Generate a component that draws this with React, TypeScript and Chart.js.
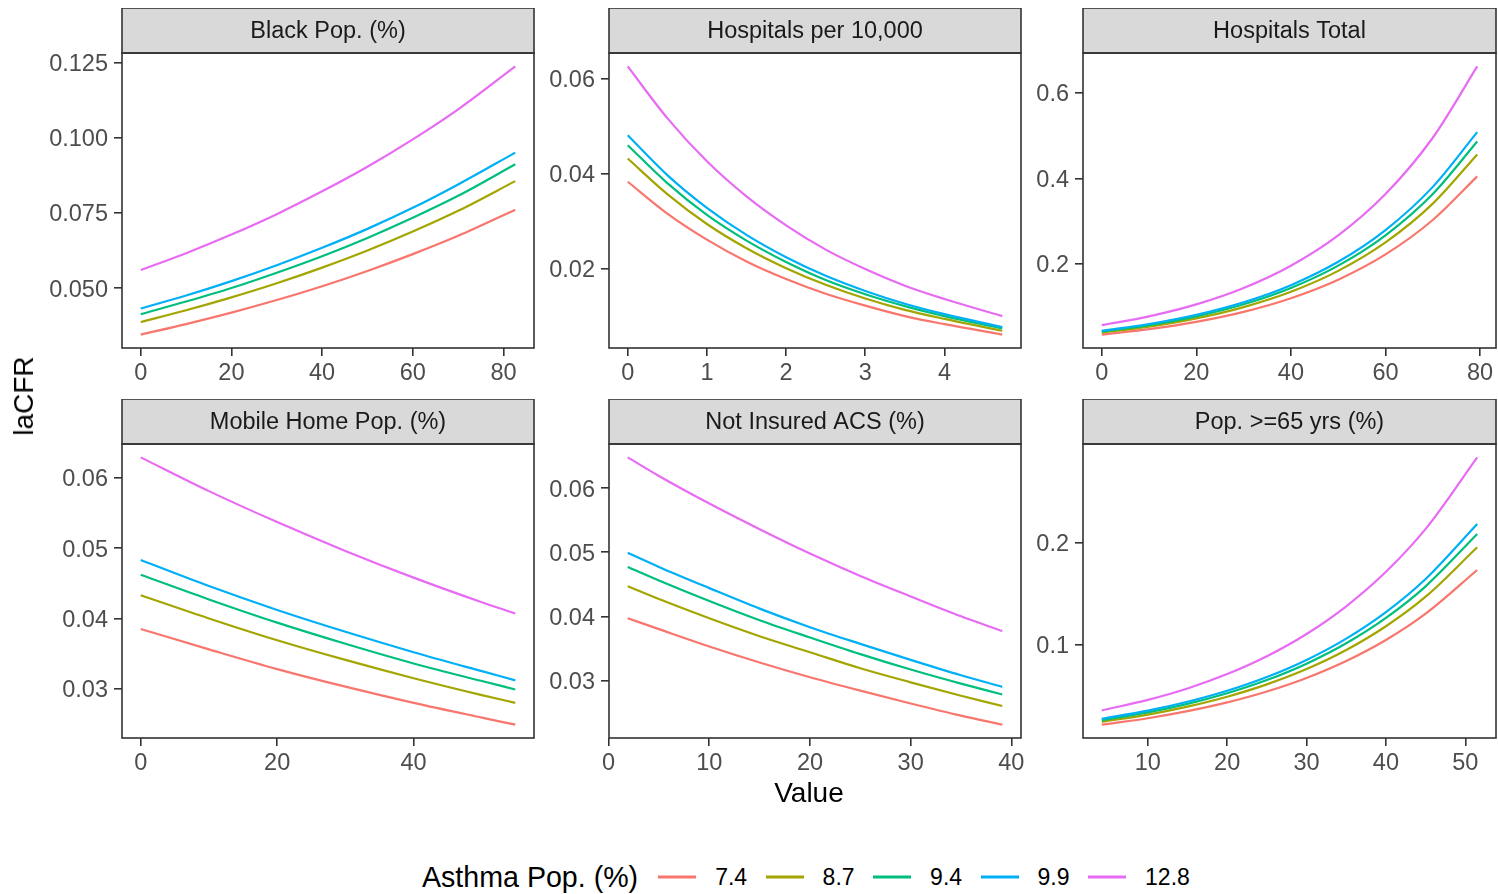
import React, { useEffect, useRef } from "react";
import { Chart, registerables } from "chart.js";
Chart.register(...registerables);

const FONT = '"Liberation Sans", Arial, Helvetica, sans-serif';

// Legend groups (Asthma Pop. %) and ggplot hue colours
const groups = ["7.4", "8.7", "9.4", "9.9", "12.8"];
const colors = ["#F8766D", "#A3A500", "#00BF7D", "#00B0F6", "#E76BF3"];

// Panel 1: Black Pop. (%)
const blackX = [0, 10, 20, 30, 40, 50, 60, 70, 82.6];
const black74 = [0.0345, 0.038, 0.0418, 0.046, 0.0506, 0.0557, 0.0613, 0.0674, 0.0761];
const black87 = [0.0387, 0.0426, 0.0469, 0.0516, 0.0568, 0.0625, 0.0688, 0.0757, 0.0856];
const black94 = [0.0413, 0.0455, 0.05, 0.0551, 0.0606, 0.0667, 0.0734, 0.0807, 0.0912];
const black99 = [0.0432, 0.0475, 0.0523, 0.0576, 0.0634, 0.0697, 0.0767, 0.0845, 0.0951];
const black128 = [0.056, 0.0616, 0.0678, 0.0746, 0.0822, 0.0904, 0.0995, 0.1095, 0.1238];
const blackXTicks = [0, 20, 40, 60, 80];
const blackYTicks = [0.05, 0.075, 0.1, 0.125];

// Panel 2: Hospitals per 10,000
const hospRateX = [0, 0.5, 1, 1.5, 2, 2.5, 3, 3.5, 4, 4.73];
const hospRate74 = [0.0383, 0.0316, 0.0261, 0.0215, 0.0178, 0.0147, 0.0122, 0.01, 0.0083, 0.0061];
const hospRate87 = [0.0432, 0.0357, 0.0294, 0.0243, 0.0201, 0.0166, 0.0137, 0.0113, 0.0094, 0.0069];
const hospRate94 = [0.046, 0.038, 0.0313, 0.0259, 0.0214, 0.0176, 0.0146, 0.0121, 0.01, 0.0074];
const hospRate99 = [0.0481, 0.0397, 0.0328, 0.0271, 0.0224, 0.0185, 0.0153, 0.0126, 0.0104, 0.0077];
const hospRate128 = [0.0626, 0.0517, 0.0426, 0.0352, 0.0291, 0.024, 0.0199, 0.0164, 0.0136, 0.01];
const hospRateXTicks = [0, 1, 2, 3, 4];
const hospRateYTicks = [0.02, 0.04, 0.06];

// Panel 3: Hospitals Total
const hospTotX = [0, 10, 20, 30, 40, 50, 60, 70, 79.4];
const hospTot74 = [0.0348, 0.0474, 0.0646, 0.0879, 0.1198, 0.1631, 0.2222, 0.3027, 0.4047];
const hospTot87 = [0.0392, 0.0534, 0.0727, 0.0991, 0.1349, 0.1838, 0.2503, 0.3409, 0.4559];
const hospTot94 = [0.0418, 0.0569, 0.0775, 0.1056, 0.1439, 0.196, 0.2669, 0.3635, 0.4861];
const hospTot99 = [0.0437, 0.0595, 0.0811, 0.1104, 0.1504, 0.2049, 0.279, 0.3801, 0.5082];
const hospTot128 = [0.0569, 0.0775, 0.1055, 0.1438, 0.1959, 0.2667, 0.3633, 0.4949, 0.6617];
const hospTotXTicks = [0, 20, 40, 60, 80];
const hospTotYTicks = [0.2, 0.4, 0.6];

// Panel 4: Mobile Home Pop. (%)
const mobileX = [0, 10, 20, 30, 40, 50, 54.9];
const mobile74 = [0.0385, 0.0356, 0.0328, 0.0303, 0.028, 0.0259, 0.0249];
const mobile87 = [0.0433, 0.04, 0.0369, 0.0341, 0.0315, 0.0291, 0.028];
const mobile94 = [0.0462, 0.0427, 0.0394, 0.0364, 0.0336, 0.0311, 0.0299];
const mobile99 = [0.0483, 0.0446, 0.0412, 0.0381, 0.0352, 0.0325, 0.0312];
const mobile128 = [0.0629, 0.0581, 0.0537, 0.0496, 0.0458, 0.0423, 0.0407];
const mobileXTicks = [0, 20, 40];
const mobileYTicks = [0.03, 0.04, 0.05, 0.06];

// Panel 5: Not Insured ACS (%)
const uninsX = [1.9, 5, 10, 15, 20, 25, 30, 35, 39.1];
const unins74 = [0.0397, 0.038, 0.0353, 0.0328, 0.0305, 0.0284, 0.0264, 0.0245, 0.0231];
const unins87 = [0.0447, 0.0427, 0.0397, 0.0369, 0.0344, 0.0319, 0.0297, 0.0276, 0.026];
const unins94 = [0.0477, 0.0456, 0.0424, 0.0394, 0.0367, 0.0341, 0.0317, 0.0295, 0.0278];
const unins99 = [0.0499, 0.0477, 0.0444, 0.0412, 0.0383, 0.0357, 0.0332, 0.0308, 0.029];
const unins128 = [0.0648, 0.0619, 0.0576, 0.0536, 0.0498, 0.0463, 0.0431, 0.04, 0.0377];
const uninsXTicks = [0, 10, 20, 30, 40];
const uninsYTicks = [0.03, 0.04, 0.05, 0.06];

// Panel 6: Pop. >=65 yrs (%)
const elderX = [4.2, 10, 15, 20, 25, 30, 35, 40, 45, 51.5];
const elder74 = [0.0218, 0.0281, 0.035, 0.0436, 0.0543, 0.0676, 0.0842, 0.1048, 0.1306, 0.1735];
const elder87 = [0.0246, 0.0317, 0.0395, 0.0492, 0.0613, 0.0763, 0.095, 0.1183, 0.1473, 0.1958];
const elder94 = [0.0263, 0.0339, 0.0422, 0.0526, 0.0655, 0.0816, 0.1016, 0.1265, 0.1575, 0.2088];
const elder99 = [0.0275, 0.0355, 0.0442, 0.055, 0.0685, 0.0853, 0.1062, 0.1322, 0.1647, 0.2186];
const elder128 = [0.0357, 0.0461, 0.0573, 0.0714, 0.0889, 0.1107, 0.1379, 0.1717, 0.2138, 0.284];
const elderXTicks = [10, 20, 30, 40, 50];
const elderYTicks = [0.1, 0.2];

type PanelDef = {
  title: string;
  xs: number[];
  series: number[][];
  xTicks: number[];
  yTicks: number[];
  yDigits: number;
};

const panels: PanelDef[] = [
  { title: "Black Pop. (%)", xs: blackX, series: [black74, black87, black94, black99, black128], xTicks: blackXTicks, yTicks: blackYTicks, yDigits: 3 },
  { title: "Hospitals per 10,000", xs: hospRateX, series: [hospRate74, hospRate87, hospRate94, hospRate99, hospRate128], xTicks: hospRateXTicks, yTicks: hospRateYTicks, yDigits: 2 },
  { title: "Hospitals Total", xs: hospTotX, series: [hospTot74, hospTot87, hospTot94, hospTot99, hospTot128], xTicks: hospTotXTicks, yTicks: hospTotYTicks, yDigits: 1 },
  { title: "Mobile Home Pop. (%)", xs: mobileX, series: [mobile74, mobile87, mobile94, mobile99, mobile128], xTicks: mobileXTicks, yTicks: mobileYTicks, yDigits: 2 },
  { title: "Not Insured ACS (%)", xs: uninsX, series: [unins74, unins87, unins94, unins99, unins128], xTicks: uninsXTicks, yTicks: uninsYTicks, yDigits: 2 },
  { title: "Pop. >=65 yrs (%)", xs: elderX, series: [elder74, elder87, elder94, elder99, elder128], xTicks: elderXTicks, yTicks: elderYTicks, yDigits: 1 },
];

// Layout (page pixels)
const COL_L = [122, 609, 1083];
const COL_R = [534, 1021, 1496];
const ROW_STRIP_TOP = [8, 399];
const ROW_PLOT_BOTTOM = [348, 738];
const STRIP_H = 45;
const Y_AXIS_W = 92;
const X_AXIS_H = 50;
const PAD_R = 8;

const facetPlugin = {
  id: "facetStrip",
  afterDraw(chart: any, _args: any, opts: any) {
    const { ctx, chartArea: a } = chart;
    ctx.save();
    ctx.fillStyle = "#D9D9D9";
    ctx.fillRect(a.left, a.top - STRIP_H, a.right - a.left, STRIP_H);
    ctx.strokeStyle = "#333333";
    ctx.lineWidth = 1.6;
    ctx.strokeRect(a.left, a.top - STRIP_H, a.right - a.left, STRIP_H);
    ctx.strokeRect(a.left, a.top, a.right - a.left, a.bottom - a.top);
    ctx.fillStyle = "#1A1A1A";
    ctx.font = `23.5px ${FONT}`;
    ctx.textAlign = "center";
    ctx.textBaseline = "middle";
    ctx.fillText(opts.title || "", (a.left + a.right) / 2, a.top - STRIP_H / 2 + 1);
    ctx.restore();
  },
};

function expand(vals: number[]) {
  const lo = Math.min(...vals);
  const hi = Math.max(...vals);
  const d = (hi - lo) * 0.05;
  return [lo - d, hi + d];
}

function Panel({ def, idx }: { def: PanelDef; idx: number }) {
  const ref = useRef<HTMLCanvasElement>(null);
  const col = idx % 3;
  const row = Math.floor(idx / 3);
  const L = COL_L[col];
  const R = COL_R[col];
  const top = ROW_STRIP_TOP[row];
  const bottom = ROW_PLOT_BOTTOM[row];
  const width = R - L + Y_AXIS_W + PAD_R;
  const height = bottom - top + X_AXIS_H;

  useEffect(() => {
    if (!ref.current) return;
    const [xMin, xMax] = expand(def.xs);
    const [yMin, yMax] = expand(def.series.flat());
    const chart = new Chart(ref.current, {
      type: "line",
      data: {
        datasets: def.series.map((ys, i) => ({
          label: groups[i],
          data: def.xs.map((x, j) => ({ x, y: ys[j] })),
          borderColor: colors[i],
          backgroundColor: colors[i],
          borderWidth: 2.2,
          pointRadius: 0,
          fill: false,
          cubicInterpolationMode: "monotone" as const,
          order: 4 - i,
        })),
      },
      options: {
        responsive: false,
        maintainAspectRatio: false,
        animation: false,
        layout: { padding: { left: 0, top: STRIP_H, right: PAD_R, bottom: 0 } },
        plugins: {
          legend: { display: false },
          tooltip: { enabled: false },
          title: { display: false },
          facetStrip: { title: def.title },
        } as any,
        scales: {
          x: {
            type: "linear",
            min: xMin,
            max: xMax,
            afterBuildTicks: (s: any) => {
              s.ticks = def.xTicks.map((v) => ({ value: v }));
            },
            afterFit: (s: any) => {
              s.height = X_AXIS_H;
            },
            ticks: {
              color: "#4D4D4D",
              font: { family: FONT, size: 23.5 },
              padding: 3,
              maxRotation: 0,
              callback: (v: any) => String(v),
            },
            grid: { drawOnChartArea: false, drawTicks: true, tickLength: 8, color: "#333333", lineWidth: 1.6 },
            border: { display: false },
          },
          y: {
            type: "linear",
            min: yMin,
            max: yMax,
            afterBuildTicks: (s: any) => {
              s.ticks = def.yTicks.map((v) => ({ value: v }));
            },
            afterFit: (s: any) => {
              s.width = Y_AXIS_W;
            },
            ticks: {
              color: "#4D4D4D",
              font: { family: FONT, size: 23.5 },
              padding: 6,
              labelOffset: 2,
              callback: (v: any) => Number(v).toFixed(def.yDigits),
            },
            grid: { drawOnChartArea: false, drawTicks: true, tickLength: 8, color: "#333333", lineWidth: 1.6 },
            border: { display: false },
          },
        },
      } as any,
      plugins: [facetPlugin],
    });
    return () => chart.destroy();
  }, [def]);

  return (
    <canvas
      ref={ref}
      width={width}
      height={height}
      style={{ position: "absolute", left: L - Y_AXIS_W, top, width, height }}
    />
  );
}

export default function App() {
  return (
    <div style={{ position: "absolute", left: 0, top: 0, width: 1498, height: 894, background: "#fff", fontFamily: FONT, overflow: "hidden" }}>
      {panels.map((p, i) => (
        <Panel key={p.title} def={p} idx={i} />
      ))}
      <div
        style={{
          position: "absolute",
          left: 24,
          top: 396,
          transform: "translate(-50%, -50%) rotate(-90deg)",
          fontSize: 28,
          color: "#000",
          whiteSpace: "nowrap",
        }}
      >
        laCFR
      </div>
      <div
        style={{
          position: "absolute",
          left: 809,
          top: 793,
          transform: "translate(-50%, -50%)",
          fontSize: 28,
          color: "#000",
          whiteSpace: "nowrap",
        }}
      >
        Value
      </div>
      <div
        style={{
          position: "absolute",
          left: 422,
          top: 877,
          transform: "translateY(-50%)",
          display: "flex",
          alignItems: "center",
          whiteSpace: "nowrap",
          color: "#000",
        }}
      >
        <span style={{ fontSize: 28.6, marginRight: 20 }}>Asthma Pop. (%)</span>
        {groups.map((g, i) => (
          <React.Fragment key={g}>
            <span style={{ display: "inline-block", width: 38, height: 2.3, background: colors[i], marginRight: 19 }} />
            <span style={{ fontSize: 23, marginRight: 18.5 }}>{g}</span>
          </React.Fragment>
        ))}
      </div>
    </div>
  );
}
